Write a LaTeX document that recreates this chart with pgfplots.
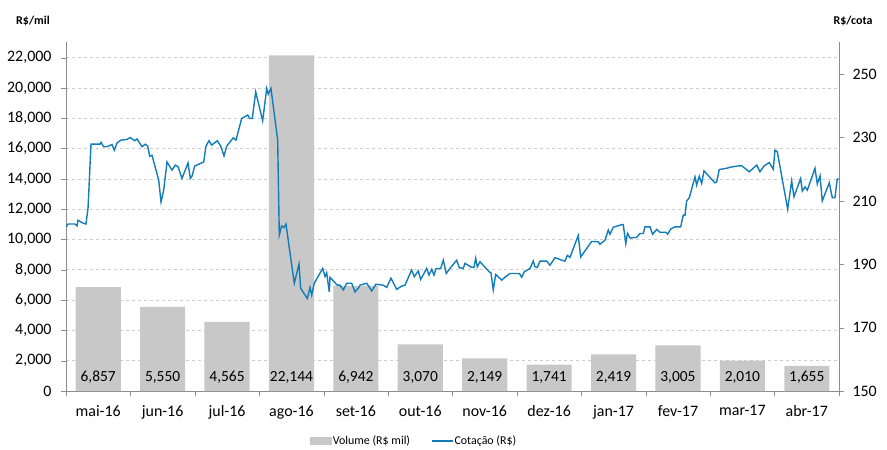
\documentclass[border=0pt]{standalone}
\usepackage{pgfplots}
\pgfplotsset{compat=1.18}
\usepackage{pgfplotstable}
\usepackage{fontspec}
\setmainfont{Carlito}
\definecolor{barcol}{RGB}{200,200,200}
\definecolor{linecol}{RGB}{18,124,184}
\definecolor{axcol}{RGB}{140,140,140}
\definecolor{gridcol}{RGB}{205,205,205}

\pgfplotstableread{
x vol
0.5 6857
1.5 5550
2.5 4565
3.5 22144
4.5 6942
5.5 3070
6.5 2149
7.5 1741
8.5 2419
9.5 3005
10.5 2010
11.5 1655
}\voltable

\pgfplotstableread{
x p
0.000 201.7
0.031 202.7
0.140 202.7
0.171 202.1
0.186 203.9
0.264 203.0
0.310 202.7
0.342 207.7
0.388 227.9
0.450 227.9
0.528 227.9
0.543 228.5
0.585 227.1
0.636 227.1
0.714 227.8
0.750 226.0
0.792 228.3
0.854 229.2
0.947 229.4
0.998 230.0
1.066 229.0
1.102 229.6
1.180 227.1
1.231 227.9
1.268 227.3
1.299 224.1
1.335 224.4
1.439 216.6
1.475 209.7
1.517 213.4
1.568 222.3
1.646 219.7
1.697 221.3
1.739 220.8
1.801 217.1
1.894 222.0
1.930 217.1
1.956 217.8
1.998 221.0
2.138 222.3
2.173 227.3
2.220 229.0
2.262 227.6
2.349 229.0
2.401 227.3
2.453 224.2
2.495 227.3
2.597 229.9
2.639 229.2
2.727 236.0
2.821 237.1
2.856 236.0
2.892 236.0
2.945 244.4
3.053 235.3
3.116 245.5
3.140 243.7
3.182 245.5
3.286 229.2
3.311 199.2
3.348 202.1
3.384 201.6
3.415 202.7
3.544 184.0
3.617 190.1
3.643 182.4
3.746 179.2
3.788 182.7
3.814 180.3
3.854 184.0
3.985 188.7
4.021 186.1
4.047 187.3
4.087 181.3
4.098 185.9
4.211 183.4
4.253 183.4
4.305 181.9
4.357 184.0
4.435 184.0
4.486 181.3
4.537 182.4
4.564 183.4
4.668 184.0
4.746 181.6
4.812 183.7
4.926 183.4
4.978 182.7
5.045 185.6
5.133 182.1
5.211 183.1
5.262 183.4
5.366 188.2
5.407 186.1
5.469 187.9
5.506 185.2
5.599 188.7
5.635 186.6
5.677 188.4
5.713 186.6
5.744 188.6
5.817 188.7
5.857 191.3
5.903 187.1
5.950 188.4
6.065 191.3
6.105 188.9
6.167 188.7
6.194 190.3
6.298 189.0
6.333 189.0
6.360 191.9
6.385 189.2
6.427 190.8
6.571 187.6
6.597 187.3
6.633 181.9
6.670 186.8
6.764 185.0
6.815 185.9
6.892 187.1
7.037 187.1
7.074 185.9
7.114 187.6
7.203 188.7
7.254 191.0
7.280 189.2
7.316 189.0
7.358 191.0
7.462 191.0
7.513 189.7
7.591 192.1
7.695 191.3
7.746 191.0
7.782 192.8
7.824 192.2
7.952 199.1
7.990 192.3
8.160 197.2
8.263 197.1
8.289 196.3
8.367 197.6
8.418 200.8
8.445 199.5
8.496 201.7
8.626 202.5
8.651 202.5
8.690 196.5
8.716 199.8
8.755 198.3
8.859 198.5
8.910 199.7
8.962 199.7
8.988 201.8
9.066 201.8
9.107 199.5
9.170 201.0
9.221 200.1
9.314 200.1
9.340 199.5
9.391 201.2
9.453 201.8
9.542 201.8
9.582 205.5
9.609 205.5
9.635 210.0
9.676 211.0
9.764 217.6
9.790 215.0
9.831 217.8
9.868 215.5
9.904 219.5
10.075 215.7
10.101 216.0
10.141 219.9
10.256 220.3
10.307 220.6
10.359 220.8
10.412 221.0
10.489 221.1
10.607 219.2
10.722 221.3
10.773 219.2
10.835 221.0
10.917 222.1
10.980 220.0
11.006 226.0
11.042 225.5
11.084 220.8
11.203 207.4
11.265 216.3
11.301 211.3
11.405 217.1
11.430 213.1
11.472 214.4
11.508 213.4
11.627 220.3
11.663 215.3
11.705 217.9
11.740 210.0
11.849 215.7
11.896 211.0
11.937 211.0
11.973 216.9
12.000 216.9
}\pricetable

\begin{document}
\begin{tikzpicture}
\useasboundingbox (-66bp,-59bp) rectangle (821bp,391bp);
\begin{axis}[
  scale only axis, width=773bp, height=348.5bp,
  xmin=0, xmax=12, ymin=0, ymax=23000,
  axis y line*=left, axis x line*=bottom,
  axis line style={-, draw=axcol},
  /pgf/number format/assume math mode=true,
  scaled y ticks=false,
  ytick={0,2000,...,22000},
  yticklabel style={font=\fontsize{16}{19}\selectfont, xshift=-6bp},
  ymajorgrids, grid style={gridcol, line width=0.6bp, dash pattern=on 3bp off 3bp},
  xtick={0.5,1.5,...,11.5},
  xticklabels={mai-16,jun-16,jul-16,ago-16,set-16,out-16,nov-16,dez-16,jan-17,fev-17,mar-17,abr-17},
  xticklabel style={font=\fontsize{16}{19}\selectfont, yshift=-6bp},
  major x tick style={draw=none},
  minor xtick={0,1,...,12},
  minor x tick style={draw=axcol},
  tick style={draw=axcol},
  tick align=outside,
  major tick length=5bp, minor tick length=5bp,
]
\addplot[ybar, bar width=0.7, fill=barcol, draw=none] table[x=x, y=vol] {\voltable};
\addplot[draw=none, mark=none, nodes near coords, point meta=explicit,
  every node near coord/.append style={anchor=center, text=black, font=\fontsize{15.5}{18}\selectfont,
   /pgf/number format/fixed, /pgf/number format/precision=0, /pgf/number format/1000 sep={,}}]
  table[x=x, y expr=920, meta=vol] {\voltable};
\end{axis}
\begin{axis}[
  scale only axis, width=773bp, height=348.5bp,
  xmin=0, xmax=12, ymin=150, ymax=260,
  axis y line*=right, axis x line=none,
  axis line style={-, draw=axcol},
  /pgf/number format/assume math mode=true,
  ytick={150,170,...,250},
  yticklabel style={font=\fontsize{16}{19}\selectfont, xshift=5bp},
  tick style={draw=axcol},
  tick align=outside, major tick length=5bp,
  legend columns=2,
  legend style={at={(0.450,-0.1435)}, anchor=center, draw=none, fill=none,
    font=\fontsize{12}{14}\selectfont, inner sep=0pt,
    nodes={inner sep=1bp},
    /tikz/every even column/.append style={column sep=20bp}},
]
\addlegendimage{legend image code/.code={\fill[barcol] (0bp,-3.5bp) rectangle (21bp,3.5bp);}}
\addlegendentry{Volume (R\$ mil)}
\addplot[linecol, line width=1.4bp, mark=none,
  legend image code/.code={\draw[linecol, line width=1.4bp] (0bp,0bp)--(21bp,0bp);}]
  table[x=x, y=p] {\pricetable};
\addlegendentry{Cotação (R\$)}
\end{axis}
\node[font=\bfseries\fontsize{12}{14}\selectfont] at (-33bp,370bp) {R\$/mil};
\node[font=\bfseries\fontsize{12}{14}\selectfont] at (787bp,370bp) {R\$/cota};
\end{tikzpicture}
\end{document}
